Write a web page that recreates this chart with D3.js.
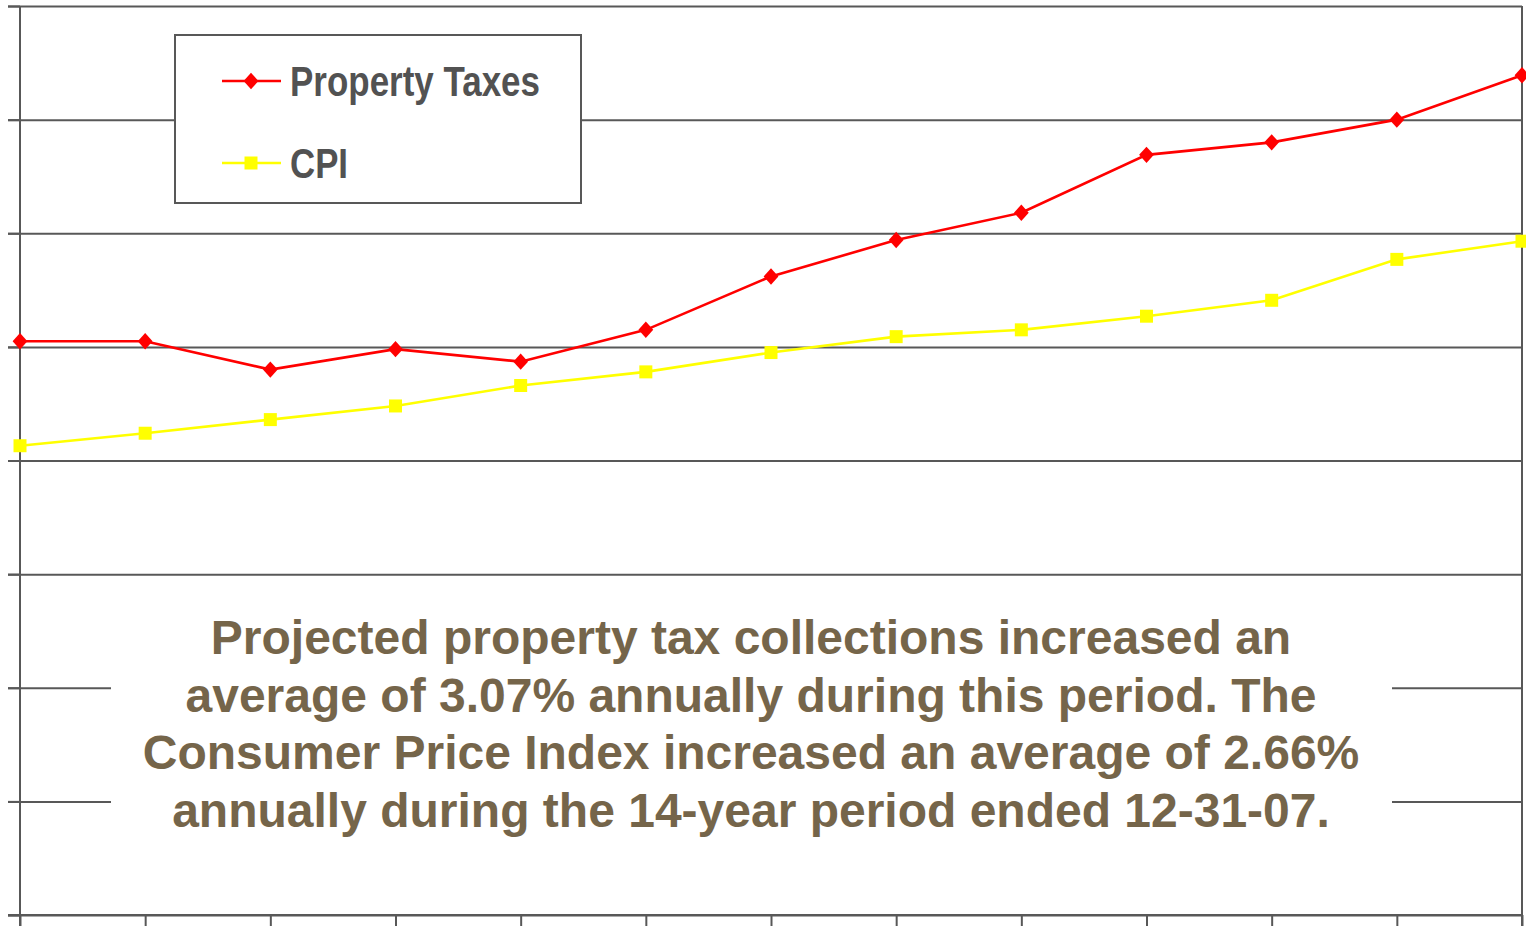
<!DOCTYPE html>
<html lang="en">
<head>
<meta charset="UTF-8">
<title>Property Taxes vs CPI</title>
<script src="https://cdnjs.cloudflare.com/ajax/libs/d3/7.8.5/d3.min.js"></script>
<style>
    body { margin: 0; padding: 0; background: #fff; }
    svg { display: block; }
    .grid line { stroke: #585858; stroke-width: 2px; }
    .grid path { display: none; }
    .axis path, .axis line { stroke: #585858; stroke-width: 2px; }
    .note { font-family: "Liberation Sans", Arial, sans-serif; font-weight: bold; font-size: 48px; fill: #75654a; }
    .legend-text { font-family: "Liberation Sans Narrow", "Arial Narrow", "Liberation Sans", sans-serif; font-weight: bold; font-size: 42px; fill: #525252; }
</style>
</head>
<body>
<div id="chart"></div>
<script>
// years on the x axis (labels are cut off in the picture)
const years = ["1995", "1996", "1997", "1998", "1999", "2000", "2001", "2002", "2003", "2004", "2005", "2006", "2007"];
// values (one gridline = 10)
const propertyTaxes = [50.5, 50.5, 48.0, 49.8, 48.7, 51.5, 56.2, 59.4, 61.8, 66.9, 68.0, 70.0, 73.9];
const cpi = [41.3, 42.4, 43.6, 44.8, 46.6, 47.8, 49.5, 50.9, 51.5, 52.7, 54.1, 57.7, 59.3];
const yTicks = [0, 10, 20, 30, 40, 50, 60, 70, 80];
const noteLines = [
    "Projected property tax collections increased an",
    "average of 3.07% annually during this period. The",
    "Consumer Price Index increased an average of 2.66%",
    "annually during the 14-year period ended 12-31-07."
];

const width = 1526, height = 926;
const plotLeft = 20, plotRight = 1522, plotTop = 6, plotBottom = 915;

const svg = d3.select("#chart").append("svg")
    .attr("width", width)
    .attr("height", height);

const x = d3.scalePoint().domain(years).range([plotLeft, plotRight]);
const y = d3.scaleLinear().domain([0, 80]).range([plotBottom, plotTop]);

// horizontal gridlines
svg.append("g")
    .attr("class", "grid")
    .attr("transform", `translate(${plotRight},0)`)
    .call(d3.axisLeft(y).tickValues(yTicks).tickSize(plotRight - plotLeft + 12).tickFormat(""));

// text box that hides the gridlines behind the note
svg.append("rect")
    .attr("x", 111).attr("y", 592)
    .attr("width", 1392 - 111).attr("height", 250)
    .attr("fill", "#fff");

// axes
svg.append("g")
    .attr("class", "axis")
    .attr("transform", `translate(${plotLeft},0)`)
    .call(d3.axisLeft(y).tickValues(yTicks).tickSizeInner(12).tickSizeOuter(0).tickFormat(""))
    .select(".domain").attr("d", `M0,${plotTop}V${height}`);

svg.append("g")
    .attr("class", "axis")
    .attr("transform", `translate(0,${plotBottom})`)
    .call(d3.axisBottom(x).tickSizeInner(12).tickSizeOuter(0).tickFormat(""))
    .select(".domain").attr("d", `M8,0H${plotRight}`);

svg.append("line")
    .attr("x1", plotRight).attr("x2", plotRight)
    .attr("y1", plotTop).attr("y2", height)
    .attr("stroke", "#585858").attr("stroke-width", 2);

// note
svg.append("g").selectAll("text")
    .data(noteLines)
    .enter().append("text")
    .attr("class", "note")
    .attr("x", 751)
    .attr("y", (d, i) => 654 + i * 57.5)
    .attr("text-anchor", "middle")
    .text(d => d);

// excel style diamond: a bit narrower than tall
const excelDiamond = {
    draw(context, size) {
        const h = Math.sqrt(size) / 2;
        const w = h * 0.9;
        context.moveTo(0, -h);
        context.lineTo(w, 0);
        context.lineTo(0, h);
        context.lineTo(-w, 0);
        context.closePath();
    }
};

// series
const series = [
    { name: "Property Taxes", values: propertyTaxes, color: "#ff0000", symbol: excelDiamond, size: 270, labelWidth: 250 },
    { name: "CPI", values: cpi, color: "#ffff00", symbol: d3.symbolSquare, size: 169, labelWidth: 58 }
];

const line = d3.line()
    .x((d, i) => x(years[i]))
    .y(d => y(d));

series.slice().reverse().forEach(s => {
    svg.append("path")
        .datum(s.values)
        .attr("fill", "none")
        .attr("stroke", s.color)
        .attr("stroke-width", 2.6)
        .attr("d", line);

    svg.append("g").selectAll("path")
        .data(s.values)
        .enter().append("path")
        .attr("transform", (d, i) => `translate(${x(years[i])},${y(d)})`)
        .attr("d", d3.symbol().type(s.symbol).size(s.size))
        .attr("fill", s.color);
});

// legend
const legend = svg.append("g");
legend.append("rect")
    .attr("x", 175).attr("y", 35)
    .attr("width", 406).attr("height", 168)
    .attr("fill", "#fff")
    .attr("stroke", "#585858").attr("stroke-width", 2);

const item = legend.selectAll(".item")
    .data(series)
    .enter().append("g")
    .attr("transform", (d, i) => `translate(0,${81 + i * 82})`);

item.append("line")
    .attr("x1", 222).attr("x2", 281)
    .attr("stroke", d => d.color)
    .attr("stroke-width", 2.6);

item.append("path")
    .attr("transform", "translate(251,0)")
    .attr("d", d => d3.symbol().type(d.symbol).size(d.size)())
    .attr("fill", d => d.color);

item.append("text")
    .attr("class", "legend-text")
    .attr("x", 290)
    .attr("y", 15)
    .attr("textLength", d => d.labelWidth)
    .attr("lengthAdjust", "spacingAndGlyphs")
    .text(d => d.name);
</script>
</body>
</html>
